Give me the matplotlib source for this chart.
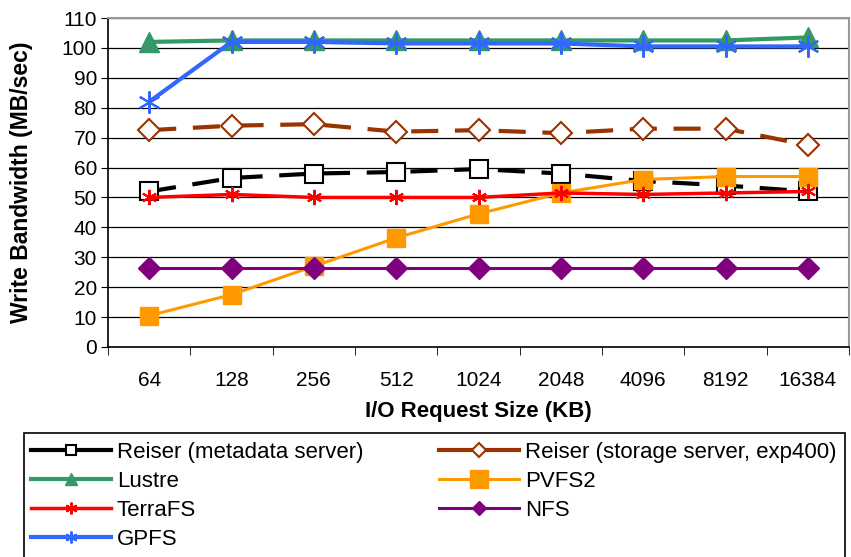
import matplotlib.pyplot as plt
import numpy as np
from matplotlib.patches import Rectangle

sizes = ['64', '128', '256', '512', '1024', '2048', '4096', '8192', '16384']

reiser_meta = [52, 56.5, 58, 58.5, 59.5, 58, 55.5, 54, 52]
reiser_storage = [72.5, 74, 74.5, 72, 72.5, 71.5, 73, 73, 67.5]
lustre = [102, 102.5, 102.5, 102.5, 102.5, 102.5, 102.5, 102.5, 103.5]
pvfs2 = [10.5, 17.5, 27, 36.5, 44.5, 51.5, 56, 57, 57]
terrafs = [50, 51, 50, 50, 50, 51.5, 51, 51.5, 52]
nfs = [26.5, 26.5, 26.5, 26.5, 26.5, 26.5, 26.5, 26.5, 26.5]
gpfs = [82, 102, 102, 101.5, 101.5, 101.5, 100.5, 100.5, 100.5]


def main():
    plt.rcParams['font.family'] = ['Liberation Sans', 'DejaVu Sans']
    W, H = 851, 557
    fig = plt.figure(figsize=(W / 100, H / 100), dpi=100)
    ax = fig.add_axes([108 / W, 1 - 347 / H, (849 - 108) / W, (347 - 18) / H])

    x = np.arange(len(sizes))
    star = (6, 2, 0)
    l_meta, = ax.plot(x, reiser_meta, color='black', lw=3, dashes=(6.5, 4), marker='s', ms=13,
                      mfc='white', mec='black', mew=1.5, label='Reiser (metadata server)')
    l_stor, = ax.plot(x, reiser_storage, color='#993300', lw=3, dashes=(6.5, 4), marker='D', ms=11,
                      mfc='white', mec='#993300', mew=1.5, label='Reiser (storage server, exp400)')
    l_lus, = ax.plot(x, lustre, color='#339966', lw=3, marker='^', ms=15,
                     mfc='#339966', mec='#339966', label='Lustre')
    l_pv, = ax.plot(x, pvfs2, color='#FF9900', lw=2.2, marker='s', ms=13,
                    mfc='#FF9900', mec='#FF9900', label='PVFS2')
    l_ter, = ax.plot(x, terrafs, color='#FF0000', lw=2.5, marker=star, ms=11, mew=1.5,
                     mec='#FF0000', label='TerraFS')
    l_nfs, = ax.plot(x, nfs, color='#800080', lw=2.2, marker='D', ms=11,
                     mfc='#800080', mec='#800080', label='NFS')
    l_gp, = ax.plot(x, gpfs, color='#3366FF', lw=3, marker=star, ms=16, mew=1.5,
                    mec='#3366FF', label='GPFS')

    ax.set_xlim(-0.5, len(sizes) - 0.5)
    ax.set_ylim(0, 110)
    ax.set_yticks(np.arange(0, 111, 10))
    ax.set_xticks(x)
    ax.set_xticklabels(sizes)
    ax.set_xticks(np.arange(-0.5, len(sizes), 1), minor=True)
    ax.tick_params(axis='x', which='major', length=0, pad=17, labelsize=15)
    ax.tick_params(axis='x', which='minor', length=6, direction='out', color='black')
    ax.tick_params(axis='y', length=5, direction='out', labelsize=15, pad=3)
    ax.grid(axis='y', color='black', lw=0.9)
    ax.set_axisbelow(True)
    for s in ['top', 'right']:
        ax.spines[s].set_color('#999999')
        ax.spines[s].set_linewidth(1.5)
    for s in ['left', 'bottom']:
        ax.spines[s].set_color('black')
        ax.spines[s].set_linewidth(1.2)

    ax.set_ylabel('Write Bandwidth (MB/sec)', fontsize=16.5, fontweight='bold')
    ax.yaxis.set_label_coords(-0.101, 0.5)
    ax.set_xlabel('I/O Request Size (KB)', fontsize=16, fontweight='bold', labelpad=8)

    fig.patches.append(Rectangle((24 / W, -0.05), (845 - 24) / W, 1 - 433 / H + 0.05,
                                 transform=fig.transFigure, fill=False,
                                 edgecolor='black', lw=1.2))
    order = [l_meta, l_lus, l_ter, l_gp, l_stor, l_pv, l_nfs]
    leg = fig.legend(handles=order, loc='upper left', bbox_to_anchor=(24 / W, 1 - 435 / H),
                     ncol=2, frameon=False, fontsize=16, handlelength=3.6,
                     handletextpad=0.28, columnspacing=3.4, labelspacing=0.36,
                     borderaxespad=0, borderpad=0.3)
    # legend markers are smaller than the plot markers, except PVFS2
    leg_ms = [6.5, 8, 8.5, 8.5, 7, 13.5, 7]
    for h, m in zip(leg.legend_handles, leg_ms):
        h.set_markersize(m)
        h.set_linestyle('-')

    fig.savefig('out.png', dpi=100)


if __name__ == '__main__':
    main()
